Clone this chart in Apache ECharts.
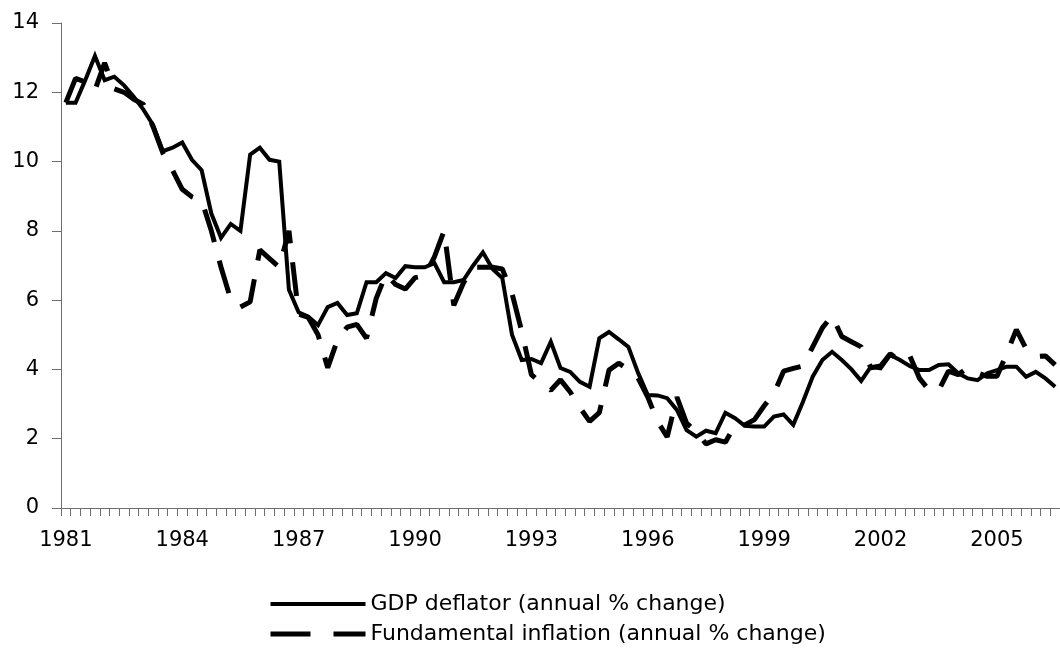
<!DOCTYPE html>
<html>
<head>
<meta charset="utf-8">
<script src="https://cdn.jsdelivr.net/npm/echarts@6/dist/echarts.min.js"></script>
<style>
  html, body { margin: 0; padding: 0; background: #fff; }
  #chart { width: 1060px; height: 652px; }
</style>
</head>
<body>
<div id="chart"></div>
<script>
// quarterly, 1981 Q1 .. 2006 Q3
var firstYear = 1981;
var quarterCount = 103;
var yearTicks = ['1981', '1984', '1987', '1990', '1993', '1996', '1999', '2002', '2005'];
var yTicks = [0, 2, 4, 6, 8, 10, 12, 14];

var gdpDeflator = [
  11.7, 11.7, 12.35, 13.05, 12.35, 12.45, 12.2, 11.87, 11.5, 11.05,
  10.3, 10.4, 10.55, 10.05, 9.75, 8.5, 7.8, 8.2, 8.0, 10.2,
  10.4, 10.05, 10.0, 6.3, 5.65, 5.52, 5.28, 5.8, 5.92, 5.57,
  5.62, 6.52, 6.52, 6.78, 6.64, 6.98, 6.95, 6.95, 7.07, 6.52,
  6.52, 6.58, 7.0, 7.38, 6.9, 6.64, 5.0, 4.27, 4.3, 4.18,
  4.8, 4.04, 3.93, 3.64, 3.5, 4.9, 5.08, 4.87, 4.65, 3.9,
  3.26, 3.25, 3.17, 2.83, 2.25, 2.06, 2.23, 2.16, 2.75, 2.59,
  2.37, 2.35, 2.35, 2.64, 2.7, 2.4, 3.07, 3.79, 4.27, 4.51,
  4.27, 4.0, 3.67, 4.08, 4.03, 4.42, 4.27, 4.1, 3.98, 3.98,
  4.13, 4.15, 3.89, 3.74, 3.69, 3.89, 3.98, 4.08, 4.08, 3.79,
  3.93, 3.74, 3.5
];

var fundamental = [
  11.7, 12.4, 12.3, 12.06, 12.85, 12.1, 12.0, 11.8, 11.65, 11.0,
  10.25, 9.75, 9.2, 8.98, 8.88, 8.0, 6.95, 6.02, 5.8, 5.95,
  7.45, 7.2, 6.95, 8.0, 5.6, 5.5, 5.0, 4.05, 4.85, 5.22,
  5.3, 4.9, 6.05, 6.75, 6.45, 6.32, 6.65, 6.7, 7.25, 8.0,
  5.85, 6.5, 6.95, 6.95, 6.95, 6.9, 6.2, 5.1, 3.85, 3.6,
  3.4, 3.7, 3.35, 2.9, 2.5, 2.75, 3.98, 4.18, 4.0, 3.75,
  3.2, 2.5, 2.05, 3.2, 2.45, 2.2, 1.85, 1.97, 1.9, 2.4,
  2.4, 2.55, 2.95, 3.3, 3.95, 4.03, 4.1, 4.65, 5.2, 5.55,
  4.95, 4.8, 4.65, 4.05, 4.1, 4.45, 4.25, 4.4, 3.75, 3.4,
  3.4, 3.95, 3.85, 4.05, 3.9, 3.8, 3.8, 4.45, 5.15, 4.6,
  4.37, 4.39, 4.13
];

var quarters = [];
for (var i = 0; i < quarterCount; i++) {
  quarters.push((firstYear + Math.floor(i / 4)) + ' Q' + (i % 4 + 1));
}

var font = 'DejaVu Sans';
var axisColor = '#6e6e6e';

var myChart = echarts.init(document.getElementById('chart'));
var option = {
  animation: false,
  backgroundColor: '#fff',
  grid: {
    left: 61,
    top: 23,
    width: 1003,
    height: 485
  },
  xAxis: {
    type: 'category',
    boundaryGap: true,
    data: quarters,
    axisLine: { show: true, lineStyle: { color: axisColor, width: 1 } },
    axisTick: { show: true, interval: 0, length: 8, lineStyle: { color: axisColor } },
    axisLabel: {
      interval: 11,
      margin: 22,
      color: '#000',
      fontFamily: font,
      fontSize: 21,
      formatter: function (v, idx) {
        return yearTicks[Math.round(idx / 12)] || '';
      }
    },
    splitLine: { show: false }
  },
  yAxis: {
    type: 'value',
    min: yTicks[0],
    max: yTicks[yTicks.length - 1],
    interval: 2,
    axisLine: { show: true, lineStyle: { color: axisColor, width: 1 } },
    axisTick: { show: true, length: 9, lineStyle: { color: axisColor } },
    axisLabel: {
      margin: 22,
      color: '#000',
      fontFamily: font,
      fontSize: 21
    },
    splitLine: { show: false }
  },
  legend: {
    orient: 'vertical',
    left: 263,
    top: 588,
    itemWidth: 95,
    itemHeight: 14,
    itemGap: 8,
    itemStyle: { opacity: 0 },
    textStyle: { color: '#000', fontFamily: font, fontSize: 22 },
    data: [
      { name: 'GDP deflator (annual % change)',
        lineStyle: { color: '#000', width: 4, type: 'solid', opacity: 1 } },
      { name: 'Fundamental inflation (annual % change)',
        lineStyle: { color: '#000', width: 5, type: [40, 23], opacity: 1 } }
    ]
  },
  series: [
    {
      name: 'GDP deflator (annual % change)',
      type: 'line',
      data: gdpDeflator,
      symbol: 'none',
      lineStyle: { color: '#000', width: 4, type: 'solid', join: 'miter' },
      itemStyle: { color: '#000' },
      z: 3
    },
    {
      name: 'Fundamental inflation (annual % change)',
      type: 'line',
      data: fundamental,
      symbol: 'none',
      lineStyle: { color: '#000', width: 5, type: [34, 19], cap: 'butt' },
      itemStyle: { color: '#000' },
      z: 2
    }
  ]
};
myChart.setOption(option);
</script>
</body>
</html>
